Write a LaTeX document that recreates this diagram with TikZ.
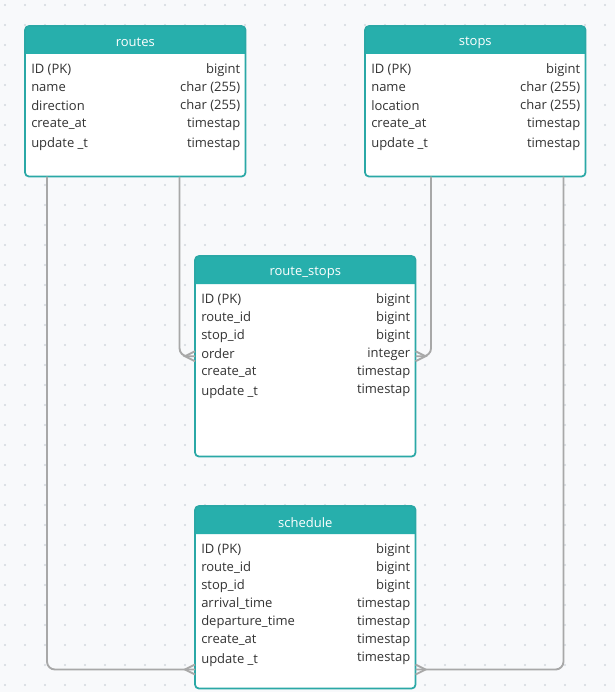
\documentclass[tikz,border=0pt]{standalone}
\usepackage{fontspec}
\setmainfont{Open Sans}
\usetikzlibrary{calc}
\definecolor{bgc}{HTML}{F8F9FB}
\definecolor{dotc}{HTML}{D3D7DE}
\definecolor{hdr}{HTML}{27AFAC}
\definecolor{bord}{HTML}{2AA8A6}
\definecolor{txt}{HTML}{333333}
\definecolor{conc}{HTML}{A8A8A8}
\tikzset{
  tbl/.style={fill=white, inner sep=0pt, anchor=north west},
  border/.style={draw=bord, line width=1.3pt, rounded corners=3pt},
  lt/.style={anchor=west, inner sep=0pt, text=txt, font=\fontsize{9.75}{12}\selectfont},
  rt/.style={anchor=east, inner sep=0pt, text=txt, font=\fontsize{9.75}{12}\selectfont},
  ttl/.style={inner sep=0pt, text=white, font=\fontsize{9.75}{12}\selectfont},
  conn/.style={draw=conc, line width=1.4pt},
}
\newcommand\ertable[7]{% name, x, y, w(px), h(px), title, rows
  \node[tbl, minimum width=#4*0.75pt, minimum height=#5*0.75pt] (#1) at (#2,#3) {};
  \fill[hdr] ($(#1.north west)+(0,28)$) [rounded corners=3pt] -- (#1.north west) -- (#1.north east) [sharp corners] -- ($(#1.north east)+(0,28)$) -- cycle;
  \draw[border] (#1.north west) rectangle (#1.south east);
  \node[ttl] (#1-title) at ($(#1.north)+(0,16.5)$) {#6};
  \foreach \ly/\lt/\ry/\rtx [count=\k] in {#7} {
    \node[lt] (#1-l\k) at ($(#1.north west)+(6,\ly+2)$) {\lt};
    \node[rt] (#1-r\k) at ($(#1.north east)+(-5,\ry+2)$) {\rtx};
  }
}
\begin{document}
\begin{tikzpicture}[x=0.75pt,y=-0.75pt]
\fill[bgc] (0,0) rectangle (615,692);
\useasboundingbox (0,0) rectangle (615,692);
\foreach \i in {0,...,30} \foreach \j in {0,...,34} \fill[dotc] (5+20*\i,5+20*\j) circle (0.9pt);

\ertable{routes}{25}{26}{220}{150}{routes}{42/ID (PK)/42/bigint, 60/name/60/char (255), 78/direction/78/char (255), 96/create\_at/96/timestap, 116/update \_t/116/timestap}
\ertable{stops}{365}{26}{220}{150}{stops}{42/ID (PK)/42/bigint, 60/name/60/char (255), 78/location/78/char (255), 96/create\_at/96/timestap, 116/update \_t/116/timestap}
\ertable{rs}{195}{256}{220}{200}{route\_stops}{42/ID (PK)/42/bigint, 60/route\_id/60/bigint, 78/stop\_id/78/bigint, 96/order/96/integer, 114/create\_at/114/timestap, 134/update \_t/132/timestap}
\ertable{sch}{195}{506}{220}{182}{schedule}{42/ID (PK)/42/bigint, 60/route\_id/60/bigint, 78/stop\_id/78/bigint, 96/arrival\_time/96/timestap, 114/departure\_time/114/timestap, 132/create\_at/132/timestap, 152/update \_t/150/timestap}

\coordinate (sA) at ($(sch.south west)+(0,-19)$);
\coordinate (sB) at ($(sch.south east)+(0,-19)$);
\coordinate (rA) at (rs.west);
\coordinate (rB) at (rs.east);

\draw[conn, rounded corners=6pt] ($(routes.south west)+(22,0)$) |- (sA);
\draw[conn, rounded corners=6pt] ($(routes.south east)+(-66,0)$) |- (rA);
\draw[conn, rounded corners=6pt] ($(stops.south west)+(66,0)$) |- (rB);
\draw[conn, rounded corners=6pt] ($(stops.south east)+(-22,0)$) |- (sB);

\draw[conn] ($(sA)+(0,-5)$) -- ($(sA)+(-10,0)$) -- ($(sA)+(0,5)$);
\draw[conn] ($(rA)+(0,-5)$) -- ($(rA)+(-10,0)$) -- ($(rA)+(0,5)$);
\draw[conn] ($(rB)+(0,-5)$) -- ($(rB)+(10,0)$) -- ($(rB)+(0,5)$);
\draw[conn] ($(sB)+(0,-5)$) -- ($(sB)+(10,0)$) -- ($(sB)+(0,5)$);
\end{tikzpicture}
\end{document}
